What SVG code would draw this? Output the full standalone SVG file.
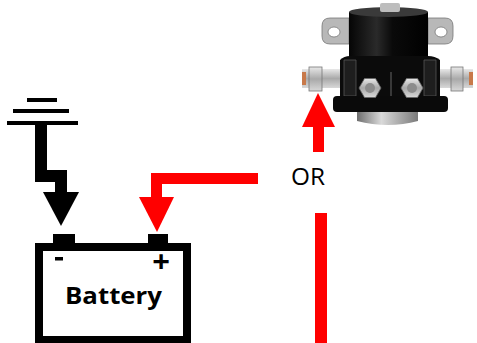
<svg xmlns="http://www.w3.org/2000/svg" width="477" height="343" viewBox="0 0 477 343">
<style>
.wire-red{fill:none;stroke:#ff0000;stroke-linejoin:miter;stroke-linecap:butt}
.wire-blk{fill:none;stroke:#000;stroke-linejoin:miter;stroke-linecap:butt}
.head-red{fill:#ff0000}
.head-blk{fill:#000}
.lbl{font-family:"Open Sans","Liberation Sans",sans-serif;fill:#000}
.metal{fill:url(#metal);stroke:#777;stroke-width:0.8}
</style>
<defs>
<linearGradient id="body" x1="0" y1="0" x2="1" y2="0">
<stop offset="0" stop-color="#050505"/>
<stop offset="0.35" stop-color="#2a2a2a"/>
<stop offset="0.55" stop-color="#0a0a0a"/>
<stop offset="1" stop-color="#000"/>
</linearGradient>
<linearGradient id="metal" x1="0" y1="0" x2="0" y2="1">
<stop offset="0" stop-color="#e8e8e8"/>
<stop offset="0.5" stop-color="#a9a9a9"/>
<stop offset="1" stop-color="#d8d8d8"/>
</linearGradient>
<linearGradient id="cyl" x1="0" y1="0" x2="1" y2="0">
<stop offset="0" stop-color="#6d6d6d"/>
<stop offset="0.4" stop-color="#d9d9d9"/>
<stop offset="1" stop-color="#7a7a7a"/>
</linearGradient>
</defs>
<rect width="477" height="343" fill="#fff"/>

<g id="ground">
<rect x="27" y="98" width="30" height="4" fill="#000"/>
<rect x="13" y="109" width="56" height="4" fill="#000"/>
<rect x="7" y="121" width="71" height="4" fill="#000"/>
</g>

<g id="battery">
<rect x="53" y="234" width="22" height="10" fill="#000"/>
<rect x="148" y="234" width="20" height="10" fill="#000"/>
<rect x="39" y="247" width="148" height="93" fill="#fff" stroke="#000" stroke-width="8"/>
<rect x="55" y="257" width="8" height="3.5" fill="#000"/>
<text class="lbl" x="161" y="272" font-size="31" font-weight="bold" text-anchor="middle">+</text>
<text class="lbl" x="113.5" y="304" font-size="24" font-weight="bold" text-anchor="middle" textLength="97" lengthAdjust="spacingAndGlyphs">Battery</text>
</g>

<g id="solenoid">
<path d="M349 18 H330 Q322 18 322 26 V36 Q322 44 330 44 H349 Z" fill="#b8b8b8" stroke="#777" stroke-width="0.8"/>
<ellipse cx="334" cy="32" rx="6" ry="5" fill="#fff" stroke="#777" stroke-width="0.8"/>
<path d="M428 18 H445 Q453 18 453 26 V36 Q453 44 445 44 H428 Z" fill="#b8b8b8" stroke="#777" stroke-width="0.8"/>
<ellipse cx="441" cy="32" rx="6" ry="5" fill="#fff" stroke="#777" stroke-width="0.8"/>
<path d="M357 110 H418 V121 Q388 129 357 121 Z" fill="url(#cyl)"/>
<rect x="302" y="69" width="40" height="19" fill="url(#metal)"/>
<rect x="302" y="72" width="4" height="13" fill="#c8794a"/>
<rect x="309" y="67" width="13" height="24" class="metal"/>
<rect x="434" y="69" width="39" height="19" fill="url(#metal)"/>
<rect x="469" y="72" width="4" height="13" fill="#c8794a"/>
<rect x="451" y="67" width="12" height="24" class="metal"/>
<path d="M349 12 Q388 4 428 12 V64 H349 Z" fill="url(#body)"/>
<ellipse cx="388.5" cy="12" rx="39.5" ry="5" fill="#3a3a3a"/>
<rect x="380" y="3" width="20" height="9" rx="2" fill="#bdbdbd"/>
<path d="M340 60 Q344 56 350 56 H428 Q435 56 440 60 V98 H340 Z" fill="#0b0b0b"/>
<path d="M344 60 L356 60 L356 96 L344 96 Z" fill="#1e1e1e" stroke="#555" stroke-width="0.8"/>
<path d="M424 60 L436 60 L436 96 L424 96 Z" fill="#1e1e1e" stroke="#555" stroke-width="0.8"/>
<line x1="391" y1="72" x2="391" y2="98" stroke="#666" stroke-width="1"/>
<rect x="333" y="96" width="115" height="16" rx="4" fill="#0a0a0a"/>
<polygon points="359,88 364.5,78.5 375.5,78.5 381,88 375.5,97.5 364.5,97.5" fill="url(#metal)" stroke="#666" stroke-width="0.8"/>
<circle cx="370" cy="88" r="5" fill="#8c8c8c"/>
<polygon points="401,88 406.5,78.5 417.5,78.5 423,88 417.5,97.5 406.5,97.5" fill="url(#metal)" stroke="#666" stroke-width="0.8"/>
<circle cx="412" cy="88" r="5" fill="#8c8c8c"/>
</g>

<g id="or-label">
<text class="lbl" x="291" y="185" font-size="24" font-family="Liberation Sans, sans-serif" textLength="34" lengthAdjust="spacingAndGlyphs">OR</text>
</g>

<g id="connectors">
<polyline class="wire-blk" stroke-width="12" points="41,125 41,176 61,176 61,193"/>
<polygon class="head-blk" points="43,192 79,192 61,226"/>
<polyline class="wire-red" stroke-width="11" points="258,178.5 156.5,178.5 156.5,198"/>
<polygon class="head-red" points="139,197 174,197 157,232"/>
<line class="wire-red" stroke-width="12" x1="321" y1="343" x2="321" y2="213"/>
<line class="wire-red" stroke-width="11" x1="318.5" y1="152" x2="318.5" y2="126"/>
<polygon class="head-red" points="302,127 335,127 318,93"/>
</g>
</svg>
